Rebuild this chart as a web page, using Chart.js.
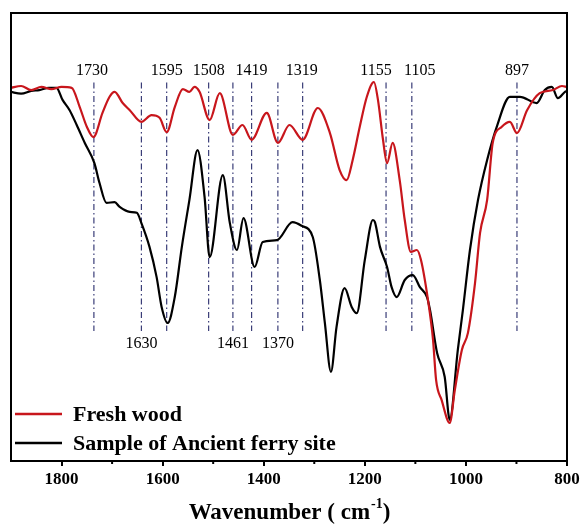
<!DOCTYPE html>
<html><head><meta charset="utf-8">
<script src="https://cdn.jsdelivr.net/npm/chart.js@4/dist/chart.umd.min.js"></script>
<style>html,body{margin:0;padding:0;background:#fff}canvas{display:block}</style>
</head><body>
<canvas id="c" width="582" height="525"></canvas>
<script>
// ---------- data ----------
const freshWavenumber = [1901,1880,1860,1840,1820,1800,1780,1764,1750,1737,1719,1705,1695,1679,1665,1642,1622,1606,1592,1576,1560,1547,1537,1527,1507,1487,1461,1442,1424,1394,1372,1349,1323,1293,1269,1250,1236,1224,1210,1196,1182,1174,1164,1156,1145,1131,1121,1109,1097,1089,1075,1065,1059,1048,1032,1022,1008,996,982,972,958,947,929,913,899,879,854,828,810,800];
const freshT = [83.3,83.7,82.8,83.5,83.0,83.5,83.3,79.0,74.6,72.3,77.7,81.3,82.4,79.9,78.3,75.7,77.2,76.6,73.4,79.0,83.0,82.4,83.5,82.4,76.1,82.1,72.8,75.0,71.7,77.7,71.0,75.0,71.7,78.8,73.2,65.0,62.7,67.2,74.6,81.3,84.6,80.6,71.7,66.5,71.0,62.7,53.8,46.7,47.1,44.9,35.9,27.0,18.1,13.6,8.5,15.8,24.8,28.6,39.7,50.9,58.3,71.0,74.6,75.7,73.2,78.3,82.1,82.8,83.7,83.5];

const ancientWavenumber = [1901,1880,1860,1844,1825,1810,1798,1784,1770,1754,1735,1725,1711,1695,1685,1665,1651,1642,1626,1612,1602,1590,1576,1562,1547,1531,1517,1507,1481,1467,1453,1440,1418,1402,1374,1343,1325,1303,1289,1279,1267,1256,1240,1226,1216,1200,1184,1180,1170,1156,1147,1137,1121,1105,1091,1077,1071,1057,1042,1032,1016,1006,992,976,958,939,913,893,860,844,830,818,804,800];
const ancientT = [82.4,82.0,82.6,82.8,83.3,83.3,80.6,78.3,75.0,71.0,66.5,62.1,57.6,57.8,56.7,55.6,55.4,53.1,47.8,41.1,34.4,30.8,36.6,47.8,58.3,69.4,58.9,45.5,63.8,53.1,47.1,54.2,43.3,48.9,49.3,53.3,52.5,50.0,40.4,30.8,19.9,29.9,38.6,34.4,33.0,44.9,53.8,53.3,47.8,43.3,38.8,36.6,40.4,41.5,38.8,36.6,33.7,24.1,18.8,9.2,24.8,33.7,47.1,58.3,67.2,74.6,81.3,81.3,79.9,82.8,83.5,81.0,82.4,82.6];

const seriesNames = ['Fresh wood', 'Sample of Ancient ferry site'];
const peakLabels = ['1730','1630','1595','1508','1461','1419','1370','1319','1155','1105','897'];
const peakLinePos = [1736,1642,1592,1509,1461,1424,1372,1323,1158,1107,899];
const peakLabelSide = ['top','bottom','top','top','bottom','top','bottom','top','top','top','top'];
const xTickValues = [1800,1600,1400,1200,1000,800];
const xMinorTickValues = [1700,1500,1300,1100,900];

// ---------- style ----------
const RED = '#c8161c', NAVY = '#3a3d78';
const SERIF = "'Liberation Serif', 'Times New Roman', serif";
const LINE_TOP = 84.5, LINE_BOTTOM = 29;     // extent of dash-dot marker lines (y units)
const LABEL_TOP_Y = 87.1, LABEL_BOTTOM_Y = 26.2;
const labelDx = {'1730': -2, '1155': -10, '1105': 8, '1319': -1};

const toPts = (xs, ys) => xs.map((x, i) => ({x, y: ys[i]}));

const datasets = [
  {label: seriesNames[0], data: toPts(freshWavenumber, freshT), borderColor: RED, borderWidth: 2.2,
   pointRadius: 0, cubicInterpolationMode: 'monotone', order: 0},
  {label: seriesNames[1], data: toPts(ancientWavenumber, ancientT), borderColor: '#000', borderWidth: 2.2,
   pointRadius: 0, cubicInterpolationMode: 'monotone', order: 1},
  ...peakLinePos.map(p => ({label: '', data: [{x: p, y: LINE_TOP}, {x: p, y: LINE_BOTTOM}],
    borderColor: NAVY, borderWidth: 1.2, borderDash: [6, 3, 1.5, 3], pointRadius: 0, order: 2}))
];

const decorPlugin = {
  id: 'decor',
  afterDraw(chart) {
    const {ctx, chartArea: a, scales: {x, y}} = chart;
    ctx.save();
    // frame
    ctx.strokeStyle = '#000'; ctx.lineWidth = 2;
    ctx.strokeRect(a.left, a.top, a.right - a.left, a.bottom - a.top);
    // minor ticks
    ctx.lineWidth = 2;
    xMinorTickValues.forEach(v => {
      const px = x.getPixelForValue(v);
      ctx.beginPath(); ctx.moveTo(px, a.bottom); ctx.lineTo(px, a.bottom + 3); ctx.stroke();
    });
    // peak labels
    ctx.fillStyle = '#000';
    ctx.font = '16px ' + SERIF;
    ctx.textAlign = 'center'; ctx.textBaseline = 'middle';
    peakLabels.forEach((t, i) => {
      const px = x.getPixelForValue(peakLinePos[i]) + (labelDx[t] || 0);
      const py = y.getPixelForValue(peakLabelSide[i] === 'top' ? LABEL_TOP_Y : LABEL_BOTTOM_Y);
      ctx.fillText(t, px, py);
    });
    // legend
    const legendRows = [{name: seriesNames[0], color: RED, y: a.bottom - 47},
                        {name: seriesNames[1], color: '#000', y: a.bottom - 18}];
    ctx.font = 'bold 22px ' + SERIF; ctx.textAlign = 'left';
    legendRows.forEach(r => {
      ctx.strokeStyle = r.color; ctx.lineWidth = 2.5;
      ctx.beginPath(); ctx.moveTo(a.left + 4, r.y); ctx.lineTo(a.left + 51, r.y); ctx.stroke();
      ctx.fillText(r.name, a.left + 62, r.y + 1);
    });
    // axis title with superscript
    const main = 'Wavenumber ( cm', sup = '-1', end = ')';
    ctx.font = 'bold 23px ' + SERIF; const w1 = ctx.measureText(main).width, w3 = ctx.measureText(end).width;
    ctx.font = 'bold 14px ' + SERIF; const w2 = ctx.measureText(sup).width;
    const cx = (a.left + a.right) / 2, ty = 513;
    let sx = cx - (w1 + w2 + w3) / 2;
    ctx.font = 'bold 23px ' + SERIF; ctx.fillText(main, sx, ty);
    ctx.font = 'bold 14px ' + SERIF; ctx.fillText(sup, sx + w1 + 1, ty - 9);
    ctx.font = 'bold 23px ' + SERIF; ctx.fillText(end, sx + w1 + w2 + 1, ty);
    ctx.restore();
  }
};

new Chart(document.getElementById('c'), {
  type: 'line',
  data: {datasets},
  options: {
    responsive: false, animation: false,
    layout: {padding: {left: 11, right: 15, top: 13, bottom: 0}},
    plugins: {legend: {display: false}, tooltip: {enabled: false}},
    scales: {
      x: {
        type: 'linear', reverse: true, min: 800, max: 1900,
        afterBuildTicks(s) { s.ticks = xTickValues.map(v => ({value: v})); },
        ticks: {color: '#000', font: {family: SERIF, size: 17, weight: 'bold'}, padding: 3,
                maxRotation: 0, autoSkip: false, callback: v => String(v)},
        grid: {drawOnChartArea: false, drawTicks: true, tickLength: 5, color: '#000', lineWidth: 2},
        border: {display: true, color: '#000', width: 2},
        afterFit(s) { s.height = 64; s.paddingLeft = 0; s.paddingRight = 0; }
      },
      y: {display: false, min: 0, max: 100}
    }
  },
  plugins: [decorPlugin]
});
</script>
</body></html>
